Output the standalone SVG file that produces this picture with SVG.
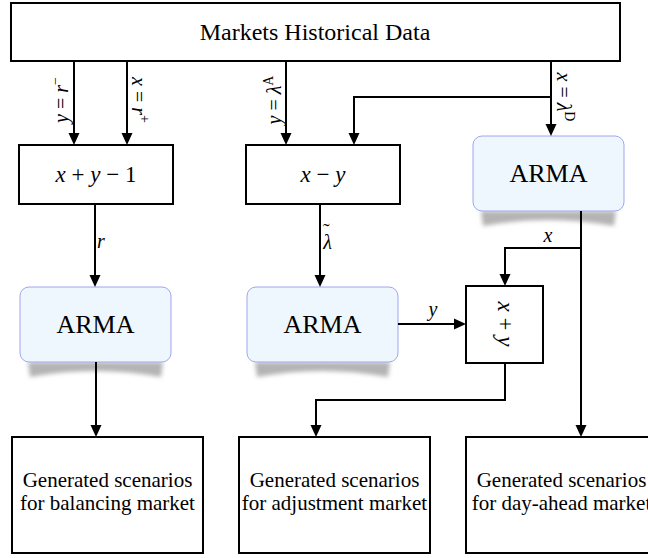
<svg xmlns="http://www.w3.org/2000/svg" width="648" height="558" viewBox="0 0 648 558">
<defs>
<marker id="ah" viewBox="0 0 12 12" refX="9" refY="6" markerWidth="12" markerHeight="12" orient="auto" markerUnits="userSpaceOnUse"><path d="M0,0.5 L12,6 L0,11.5 Z" fill="#000"/></marker>
<filter id="blur" x="-20%" y="-50%" width="140%" height="200%"><feGaussianBlur stdDeviation="2"/></filter>
<style>
text{font-family:"Liberation Serif","Times New Roman",serif;fill:#000}
.box{fill:#fff;stroke:#000;stroke-width:2}
.arma{fill:#eef6fe;stroke:#9ea6ee;stroke-width:1}
.shadow{fill:#b4b4b4;filter:url(#blur)}
.main{font-size:24px;text-anchor:middle}
.armat{font-size:26px;text-anchor:middle}
.gen{font-size:21px;text-anchor:middle}
.math{font-size:23px;text-anchor:middle}
.lbl{font-size:20px}
.sup{font-size:14px}
.it{font-style:italic}
.conn path{fill:none;stroke:#000;stroke-width:2}
</style>
</defs>
<rect width="648" height="558" fill="#fff"/>

<g id="historical">
<rect class="box" x="11" y="3" width="609" height="58"/>
<text class="main" x="315" y="40">Markets Historical Data</text>
</g>

<g id="sum1">
<rect class="box" x="19" y="145" width="154" height="59"/>
<text class="math" x="96" y="182"><tspan class="it">x</tspan> + <tspan class="it">y</tspan> − 1</text>
</g>

<g id="diff">
<rect class="box" x="246" y="145" width="154" height="59"/>
<text class="math" x="323" y="182"><tspan class="it">x</tspan> − <tspan class="it">y</tspan></text>
</g>

<g id="arma-da">
<path class="shadow" d="M481,211 L616,211 L614,226 Q548,214 483,226 Z"/>
<rect class="arma" x="473" y="136" width="151" height="75" rx="9"/>
<text class="armat" x="548.5" y="182">ARMA</text>
</g>

<g id="arma-bal">
<path class="shadow" d="M28,362 L163,362 L161,377 Q95,365 30,377 Z"/>
<rect class="arma" x="20" y="287" width="151" height="75" rx="9"/>
<text class="armat" x="95.5" y="333">ARMA</text>
</g>

<g id="arma-adj">
<path class="shadow" d="M255,362 L390,362 L388,377 Q322,365 257,377 Z"/>
<rect class="arma" x="247" y="287" width="151" height="75" rx="9"/>
<text class="armat" x="322.5" y="333">ARMA</text>
</g>

<g id="sum2">
<rect class="box" x="466" y="286" width="77" height="77"/>
<text class="math" x="498" y="324" transform="rotate(90 498 324)"><tspan class="it">x</tspan> + <tspan class="it">y</tspan></text>
</g>

<g id="out-bal">
<rect class="box" x="12" y="437" width="191" height="116"/>
<text class="gen" x="107.5" y="487">Generated scenarios</text>
<text class="gen" x="107.5" y="510">for balancing market</text>
</g>

<g id="out-adj">
<rect class="box" x="239" y="437" width="191" height="116"/>
<text class="gen" x="334.5" y="487">Generated scenarios</text>
<text class="gen" x="334.5" y="510">for adjustment market</text>
</g>

<g id="out-da">
<rect class="box" x="466" y="437" width="191" height="116"/>
<text class="gen" x="561.5" y="487">Generated scenarios</text>
<text class="gen" x="561.5" y="510">for day-ahead market</text>
</g>

<g class="conn" id="connectors">
<path d="M74,61 V142" marker-end="url(#ah)"/>
<path d="M127,61 V142" marker-end="url(#ah)"/>
<path d="M286,61 V142" marker-end="url(#ah)"/>
<path d="M551,61 V133" marker-end="url(#ah)"/>
<path d="M551,97 H354 V142" marker-end="url(#ah)"/>
<path d="M95,204 V284" marker-end="url(#ah)"/>
<path d="M320,204 V284" marker-end="url(#ah)"/>
<path d="M581,211 V434" marker-end="url(#ah)"/>
<path d="M581,248 H505 V283" marker-end="url(#ah)"/>
<path d="M398,324 H463" marker-end="url(#ah)"/>
<path d="M505,363 V400 H316 V434" marker-end="url(#ah)"/>
<path d="M96,362 V434" marker-end="url(#ah)"/>
</g>

<g id="labels">
<text class="lbl" x="68" y="100" text-anchor="middle" transform="rotate(-90 68 100)"><tspan class="it">y</tspan> = <tspan class="it">r</tspan><tspan class="sup" dy="-8">−</tspan></text>
<text class="lbl" x="132" y="100" text-anchor="middle" transform="rotate(90 132 100)"><tspan class="it">x</tspan> = <tspan class="it">r</tspan><tspan class="sup" dy="-8">+</tspan></text>
<text class="lbl" x="281" y="100" text-anchor="middle" transform="rotate(-90 281 100)"><tspan class="it">y</tspan> = <tspan class="it">λ</tspan><tspan class="sup" dy="-8">A</tspan></text>
<text class="lbl" x="557" y="97" text-anchor="middle" transform="rotate(90 557 97)"><tspan class="it">x</tspan> = <tspan class="it">λ</tspan><tspan class="sup" dy="-8">D</tspan></text>
<text class="lbl it" x="97" y="248">r</text>
<text class="lbl" x="323" y="249"><tspan class="it">λ</tspan><tspan dx="-9" dy="-11">˜</tspan></text>
<text class="lbl it" x="548" y="242" text-anchor="middle">x</text>
<text class="lbl it" x="433" y="316" text-anchor="middle">y</text>
</g>
</svg>
